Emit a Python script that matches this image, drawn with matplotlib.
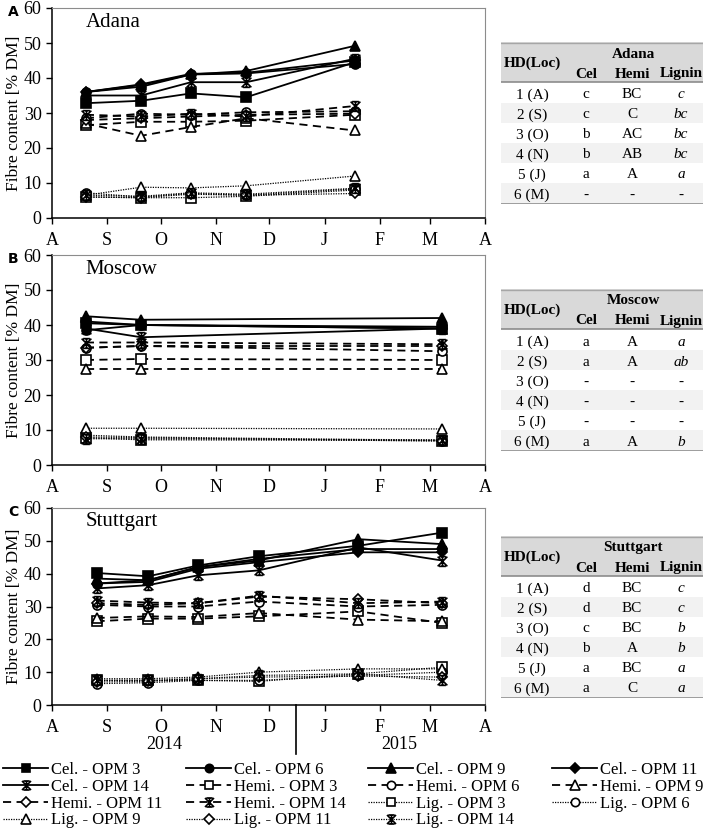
import datetime as dt
import matplotlib.pyplot as plt
import matplotlib.dates as mdates
import matplotlib.transforms as mtransforms
from matplotlib.path import Path
from matplotlib.lines import Line2D
from matplotlib.patches import Rectangle

plt.rcParams['font.family'] = ['Liberation Serif', 'DejaVu Serif']

# ---- data ----
opm = ["OPM 3", "OPM 6", "OPM 9", "OPM 11", "OPM 14"]
months = ["A", "S", "O", "N", "D", "J", "F", "M", "A"]
hd_loc = ["1 (A)", "2 (S)", "3 (O)", "4 (N)", "5 (J)", "6 (M)"]

adana_dates = ["2014-08-20", "2014-09-20", "2014-10-18", "2014-11-18", "2015-01-18"]
adana_cel = [[32.8, 33.5, 35.6, 34.5, 44.5],
             [36.0, 37.5, 41.0, 41.3, 44.0],
             [36.0, 38.0, 41.0, 42.0, 49.2],
             [36.0, 38.2, 41.2, 41.5, 45.0],
             [35.0, 35.0, 38.8, 38.8, 45.5]]
adana_hemi = [[26.5, 27.5, 27.5, 27.8, 29.5],
              [28.5, 29.8, 29.5, 30.2, 30.5],
              [27.0, 23.5, 26.0, 28.5, 25.0],
              [28.0, 28.5, 29.0, 29.5, 29.8],
              [29.5, 29.0, 29.8, 29.0, 32.0]]
adana_lig = [[6.0, 5.8, 5.8, 6.2, 8.0],
             [7.2, 6.0, 7.0, 6.5, 8.3],
             [6.5, 8.8, 8.6, 9.2, 12.0],
             [6.0, 5.8, 6.8, 6.5, 7.0],
             [6.5, 6.2, 7.2, 6.8, 8.5]]

moscow_dates = ["2014-08-20", "2014-09-20", "2015-03-08"]
moscow_cel = [[40.5, 40.0, 39.0],
              [38.5, 40.0, 39.5],
              [42.5, 41.5, 42.0],
              [41.0, 40.0, 39.0],
              [39.0, 36.5, 39.0]]
moscow_hemi = [[30.0, 30.3, 30.0],
               [33.5, 34.0, 32.5],
               [27.5, 27.5, 27.5],
               [33.5, 34.0, 34.0],
               [35.0, 35.0, 34.5]]
moscow_lig = [[7.8, 7.2, 7.0],
              [8.5, 8.0, 7.0],
              [10.5, 10.5, 10.3],
              [8.0, 7.8, 6.8],
              [7.5, 7.5, 7.2]]

stutt_dates = ["2014-08-26", "2014-09-24", "2014-10-22", "2014-11-25", "2015-01-20", "2015-03-08"]
stutt_cel = [[40.2, 39.2, 42.5, 45.3, 48.5, 52.5],
             [37.0, 38.0, 42.0, 44.5, 47.5, 47.5],
             [38.5, 38.0, 42.0, 44.0, 50.5, 49.0],
             [37.0, 37.5, 41.5, 43.5, 46.5, 46.5],
             [35.5, 36.5, 39.5, 41.0, 48.0, 44.0]]
stutt_hemi = [[25.5, 26.3, 26.3, 27.0, 28.5, 25.0],
              [30.5, 30.0, 30.0, 31.5, 30.0, 30.5],
              [26.5, 27.0, 26.8, 28.0, 26.0, 25.5],
              [31.0, 30.5, 31.0, 33.0, 32.2, 31.0],
              [31.8, 31.2, 31.0, 33.3, 31.0, 31.5]]
stutt_lig = [[7.5, 7.5, 7.5, 7.2, 9.5, 11.5],
             [6.5, 6.8, 7.5, 7.5, 9.0, 10.0],
             [8.0, 8.0, 8.5, 10.0, 11.0, 11.0],
             [7.0, 7.2, 8.0, 8.5, 8.8, 8.5],
             [7.5, 7.5, 8.0, 9.0, 9.5, 7.5]]

adana_tab = [["c", "c", "b", "b", "a", "-"],
             ["BC", "C", "AC", "AB", "A", "-"],
             ["c", "bc", "bc", "bc", "a", "-"]]
moscow_tab = [["a", "a", "-", "-", "-", "a"],
              ["A", "A", "-", "-", "-", "A"],
              ["a", "ab", "-", "-", "-", "b"]]
stutt_tab = [["d", "d", "c", "b", "a", "a"],
             ["BC", "BC", "BC", "A", "BC", "C"],
             ["c", "c", "b", "b", "a", "a"]]

# ---- styles ----
star = Path([(-1, -1), (1, 1), (-1, 1), (1, -1), (0, -1), (0, 1),
             (-0.7, 1), (0.7, 1), (-0.7, -1), (0.7, -1)],
            [Path.MOVETO, Path.LINETO] * 5)
markers = ['s', 'o', '^', 'D', star]
msizes = [6.5, 6.5, 7, 5.5, 7]
groups = [("Cel.", '-', 1.3, 'black'),
          ("Hemi.", (0, (4.5, 3)), 1.3, 'white'),
          ("Lig.", (0, (1, 1)), 0.9, 'white')]

W, H = 708, 834
fig = plt.figure(figsize=(7.08, 8.34), dpi=100)


def fbox(l, t, r, b):
    return [l / W, 1 - b / H, (r - l) / W, (b - t) / H]


def draw_panel(letter, name, dates, series, tab, top, bot, ttop):
    ax = fig.add_axes(fbox(52, top, 485, bot))
    x = [dt.datetime.strptime(d, "%Y-%m-%d") for d in dates]
    for (gname, ls, lw, face), vals in zip(groups, series):
        for i, v in enumerate(vals):
            ax.plot(x, v, linestyle=ls, lw=lw, color='black',
                    marker=markers[i], ms=msizes[i], mfc=face, mec='black',
                    mew=1.2, clip_on=False, zorder=3)
    ticks = [dt.datetime(2014 + (7 + k) // 12, (7 + k) % 12 + 1, 1) for k in range(9)]
    ax.set_xlim(ticks[0], ticks[-1])
    ax.set_xticks(ticks)
    ax.set_xticklabels(months)
    ax.set_ylim(0, 60)
    ax.set_yticks(range(0, 61, 10))
    ax.tick_params(direction='out', length=4, labelsize=13, width=1)
    ax.tick_params(axis='x', pad=6)
    for s in ['top', 'right']:
        ax.spines[s].set_color('#8c8c8c')
    for s in ['left', 'bottom']:
        ax.spines[s].set_linewidth(1.1)
    ax.set_ylabel("Fibre content [% DM]", fontsize=12.5, labelpad=1)
    ax.text(0.078, 0.93, name, transform=ax.transAxes, fontsize=15,
            ha='left', va='center')
    fig.text(8 / W, 1 - (top + 4) / H, letter, fontsize=10, fontweight='bold',
             family='DejaVu Sans', ha='left', va='center')

    # table
    tx = fig.add_axes(fbox(501, ttop, 703, ttop + 162))
    tx.set_xlim(0, 202)
    tx.set_ylim(162, 0)
    tx.axis('off')
    tx.add_patch(Rectangle((0, 0), 202, 40, color='#d9d9d9', lw=0))
    for r in range(6):
        if r % 2 == 1:
            tx.add_patch(Rectangle((0, 41 + 20 * r), 202, 20, color='#f2f2f2', lw=0))
    tx.plot([0, 202], [0.5, 0.5], color='#a6a6a6', lw=1)
    tx.plot([0, 202], [40, 40], color='#8c8c8c', lw=1.2)
    tx.plot([0, 202], [161.5, 161.5], color='#8c8c8c', lw=1.2)
    fs = 11
    tx.text(31, 21, "HD(Loc)", fontsize=fs, fontweight='bold', ha='center', va='center')
    tx.text(132, 12, name, fontsize=fs, fontweight='bold', ha='center', va='center')
    cols = [85, 131, 180]
    for cx, lab in zip(cols, ["Cel", "Hemi", "Lignin"]):
        tx.text(cx, 32, lab, fontsize=fs, fontweight='bold', ha='center', va='center')
    for r in range(6):
        yy = 53 + 20 * r
        tx.text(31, yy, hd_loc[r], fontsize=fs, ha='center', va='center')
        for c in range(3):
            tx.text(cols[c], yy, tab[c][r], fontsize=fs, ha='center', va='center',
                    style='italic' if c == 2 else 'normal')
    return ax


draw_panel("A", "Adana", adana_dates, [adana_cel, adana_hemi, adana_lig], adana_tab, 8, 218, 42)
draw_panel("B", "Moscow", moscow_dates, [moscow_cel, moscow_hemi, moscow_lig], moscow_tab, 255, 465, 289)
axc = draw_panel("C", "Stuttgart", stutt_dates, [stutt_cel, stutt_hemi, stutt_lig], stutt_tab, 508, 705, 536)

# year divider and labels
trans = mtransforms.blended_transform_factory(axc.transData, axc.transAxes)
xdiv = mdates.date2num(dt.datetime(2014, 12, 16))
axc.add_line(Line2D([xdiv, xdiv], [0, -0.25], transform=trans, color='black',
                    lw=1.2, clip_on=False))
axc.text(mdates.date2num(dt.datetime(2014, 10, 3)), -0.2, "2014", transform=trans,
         fontsize=13, ha='center', va='center')
axc.text(mdates.date2num(dt.datetime(2015, 2, 12)), -0.2, "2015", transform=trans,
         fontsize=13, ha='center', va='center')

# legend, row-major like the original
handles, labels = [], []
for gname, ls, lw, face in groups:
    for i, o in enumerate(opm):
        handles.append(Line2D([], [], linestyle=ls, lw=lw, color='black',
                              marker=markers[i], ms=msizes[i] - 0.5, mfc=face,
                              mec='black', mew=1.2))
        labels.append(f"{gname} - {o}")
col_x = [3, 186, 368, 552]
for c in range(4):
    idx = list(range(c, len(handles), 4))
    fig.legend([handles[i] for i in idx], [labels[i] for i in idx],
               loc='upper left', bbox_to_anchor=(col_x[c] / W, 1 - 762 / H),
               frameon=False, fontsize=12, handlelength=2.7, handletextpad=0.2,
               labelspacing=0.05, borderaxespad=0, borderpad=0)

fig.savefig("out.png", dpi=100)
